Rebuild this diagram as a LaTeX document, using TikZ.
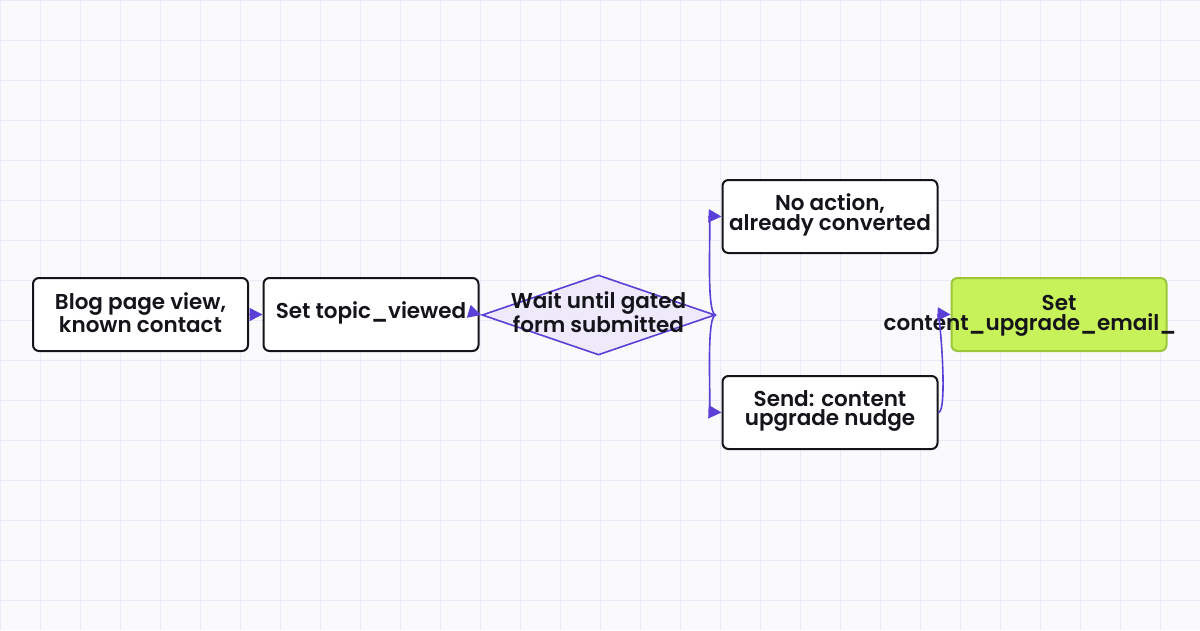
\documentclass[tikz,border=0pt]{standalone}
\usepackage{fontspec}
\setmainfont{Poppins}[BoldFont=Poppins SemiBold]
\usetikzlibrary{shapes.geometric,arrows.meta}
\definecolor{bg}{HTML}{FAFAFD}
\definecolor{gridc}{HTML}{ECEAF8}
\definecolor{ink}{HTML}{15141A}
\definecolor{pur}{HTML}{5B3FD6}
\definecolor{dfill}{HTML}{EEEAFB}
\definecolor{lime}{HTML}{C8F25A}
\definecolor{limeb}{HTML}{9CC63A}
\begin{document}
\begin{tikzpicture}[x=1pt,y=-1pt,
 box/.style={draw=ink,line width=2pt,rounded corners=6pt,fill=white,minimum width=215pt,minimum height=73pt,inner sep=0pt},
 txt/.style={font=\fontsize{21.5}{19.5}\selectfont\bfseries,text=ink,align=center,inner sep=0pt},
 arr/.style={draw=pur,line width=1.6pt,-{Triangle[length=13pt,width=13pt]}}]
\fill[bg] (0,0) rectangle (1200,630);
\useasboundingbox (0,0) rectangle (1200,630);
\foreach \i in {0,40,...,1200} \draw[gridc,line width=1pt] (\i,0) -- (\i,630);
\foreach \j in {0,40,...,600} \draw[gridc,line width=1pt] (0,\j) -- (1200,\j);
\node[box] (blog) at (140.5,314.5) {};
\node[txt] at (140.5,313) {Blog page view,\\known contact};
\node[box] (topic) at (371,314.5) {};
\node[txt] at (371,313) {Set topic\_viewed};
\node[diamond,draw=pur,fill=dfill,line width=1.6pt,minimum width=233pt,minimum height=80pt,aspect=2.9,inner sep=0pt] (wait) at (598.5,315) {};
\node[txt] at (598.5,312) {Wait until gated\\form submitted};
\node[box] (noact) at (830,216.5) {};
\node[txt] at (830,215) {No action,\\already converted};
\node[box] (send) at (830,412.5) {};
\node[txt] at (830,411) {Send: content\\upgrade nudge};
\node[box,draw=limeb,fill=lime] (setc) at (1059,314.5) {};
\node[txt,anchor=base] (setl) at (1059,310) {Set};
\node[txt,anchor=base] (setl2) at (1030,330) {content\_upgrade\_email\_};
\draw[arr] (blog.east) -- (topic.west);
\draw[arr] (topic.east) -- (wait.west);
\draw[arr] (wait.east) .. controls (705,315) and (712,216) .. (noact.west);
\draw[arr] (wait.east) .. controls (705,315) and (712,412) .. (send.west);
\draw[arr] (send.east) .. controls (948,412) and (940,314) .. (setc.west);
\end{tikzpicture}
\end{document}
